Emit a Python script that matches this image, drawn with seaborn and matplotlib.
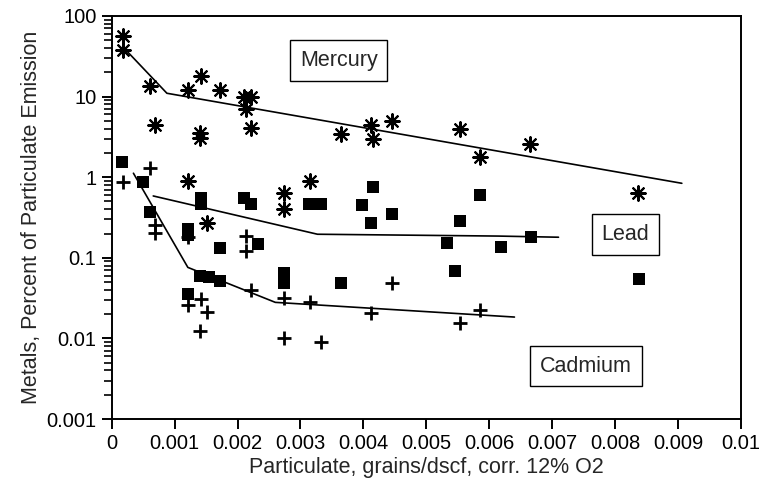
import numpy as np
import pandas as pd
import matplotlib
matplotlib.use("Agg")
import matplotlib.pyplot as plt
import matplotlib.ticker as mticker
import seaborn as sns

# Metal emissions as percent of particulate emission
mercury_x = [0.000185, 0.000185, 0.00061, 0.00069, 0.00121, 0.00142, 0.00141,
             0.00141, 0.00172, 0.00211, 0.00222, 0.00213, 0.00221, 0.00364,
             0.00412, 0.00415, 0.00445, 0.00554, 0.00585, 0.00664, 0.00837,
             0.00121, 0.00152, 0.00273, 0.00273, 0.00315]
mercury_y = [57, 37.9, 13.5, 4.4, 12.1, 18, 3.5,
             3.1, 12.1, 9.8, 9.8, 7.0, 4.1, 3.4,
             4.5, 2.95, 5.0, 3.96, 1.77, 2.56, 0.64,
             0.90, 0.27, 0.63, 0.40, 0.90]

lead_x = [0.00017, 0.00049, 0.00061, 0.00121, 0.00121, 0.00142, 0.00142,
          0.00172, 0.00211, 0.00222, 0.00233, 0.00141, 0.00154, 0.00172,
          0.00274, 0.00274, 0.00121, 0.00314, 0.00333, 0.00416, 0.00397,
          0.00412, 0.00445, 0.00586, 0.00554, 0.00533, 0.00618, 0.00546,
          0.00364, 0.00666, 0.00838]
lead_y = [1.53, 0.88, 0.37, 0.23, 0.19, 0.55, 0.46,
          0.133, 0.55, 0.47, 0.148, 0.059, 0.057, 0.051,
          0.065, 0.049, 0.036, 0.46, 0.47, 0.75, 0.45,
          0.27, 0.35, 0.60, 0.29, 0.151, 0.135, 0.068,
          0.048, 0.18, 0.054]

cadmium_x = [0.000175, 0.00061, 0.00069, 0.00069, 0.00121, 0.00213, 0.00213,
             0.00121, 0.00142, 0.00152, 0.00141, 0.00222, 0.00274, 0.00274,
             0.00445, 0.00315, 0.00333, 0.00412, 0.00553, 0.00585]
cadmium_y = [0.88, 1.29, 0.255, 0.205, 0.18, 0.186, 0.122,
             0.026, 0.031, 0.021, 0.0124, 0.040, 0.0314, 0.0102,
             0.048, 0.0283, 0.0090, 0.0205, 0.0157, 0.0225]

# Trend lines
mercury_fit_x = [0.000214, 0.000877, 0.00906]
mercury_fit_y = [38.6, 11.0, 0.84]
lead_fit_x = [0.00066, 0.00327, 0.00614, 0.0071]
lead_fit_y = [0.585, 0.196, 0.186, 0.18]
cadmium_fit_x = [0.000345, 0.00121, 0.0026, 0.0064]
cadmium_fit_y = [1.12, 0.076, 0.028, 0.0184]

x_ticks = [0, 0.001, 0.002, 0.003, 0.004, 0.005, 0.006, 0.007, 0.008, 0.009, 0.01]
x_tick_labels = ["0", "0.001", "0.002", "0.003", "0.004", "0.005", "0.006",
                 "0.007", "0.008", "0.009", "0.01"]
y_ticks = [0.001, 0.01, 0.1, 1, 10, 100]
y_tick_labels = ["0.001", "0.01", "0.1", "1", "10", "100"]

sns.set_style("ticks")
plt.rcParams.update({
    "font.family": ["Liberation Sans", "DejaVu Sans"],
    "axes.linewidth": 1.4,
    "xtick.color": "black",
    "ytick.color": "black",
})

fig = plt.figure(figsize=(7.61, 4.83), dpi=100)
ax = fig.add_axes([0.1468, 0.1325, 0.8269, 0.8344])

pts = pd.concat([
    pd.DataFrame({"x": mercury_x, "y": mercury_y, "metal": "Mercury"}),
    pd.DataFrame({"x": lead_x, "y": lead_y, "metal": "Lead"}),
    pd.DataFrame({"x": cadmium_x, "y": cadmium_y, "metal": "Cadmium"}),
])

sns.scatterplot(data=pts[pts.metal == "Mercury"], x="x", y="y", ax=ax,
                marker=(8, 2, 0), s=110, color="black", linewidth=1.5,
                legend=False, zorder=3)
sns.scatterplot(data=pts[pts.metal == "Lead"], x="x", y="y", ax=ax,
                marker="s", s=70, color="black", linewidth=0,
                legend=False, zorder=3)
cad = pts[pts.metal == "Cadmium"]
ax.scatter(cad["x"], cad["y"], marker="+", s=90, color="black",
           linewidths=2.0, zorder=3)

for fx, fy in [(mercury_fit_x, mercury_fit_y),
               (lead_fit_x, lead_fit_y),
               (cadmium_fit_x, cadmium_fit_y)]:
    sns.lineplot(x=fx, y=fy, ax=ax, color="black", linewidth=1.2,
                 sort=False, estimator=None, zorder=2)

ax.set_yscale("log")
ax.set_xlim(0, 0.01)
ax.set_ylim(0.001, 100)
ax.set_xticks(x_ticks)
ax.set_xticklabels(x_tick_labels)
ax.set_yticks(y_ticks)
ax.set_yticklabels(y_tick_labels)
ax.yaxis.set_minor_locator(mticker.LogLocator(base=10, subs=np.arange(2, 10),
                                              numticks=50))
ax.yaxis.set_minor_formatter(mticker.NullFormatter())
ax.tick_params(axis="both", which="major", labelsize=14.5, pad=4,
               length=7, width=1.4, direction="out", color="black")
ax.tick_params(axis="y", which="minor", left=True, length=6, width=1.2,
               direction="out", color="black")
ax.tick_params(axis="x", which="minor", bottom=False)

ax.set_xlabel("Particulate, grains/dscf, corr. 12% O2", fontsize=15.5, labelpad=3)
ax.set_ylabel("Metals, Percent of Particulate Emission", fontsize=15.5, labelpad=3)

box = dict(boxstyle="square,pad=0.45", facecolor="white", edgecolor="black",
           linewidth=1.0)
ax.text(0.361, 0.890, "Mercury", transform=ax.transAxes, fontsize=15.5,
        ha="center", va="center", bbox=box)
ax.text(0.8165, 0.458, "Lead", transform=ax.transAxes, fontsize=15.5,
        ha="center", va="center", bbox=box)
ax.text(0.7537, 0.1315, "Cadmium", transform=ax.transAxes, fontsize=15.5,
        ha="center", va="center", bbox=box)

for s in ax.spines.values():
    s.set_visible(True)
    s.set_color("black")

fig.savefig("out.png", dpi=100)
